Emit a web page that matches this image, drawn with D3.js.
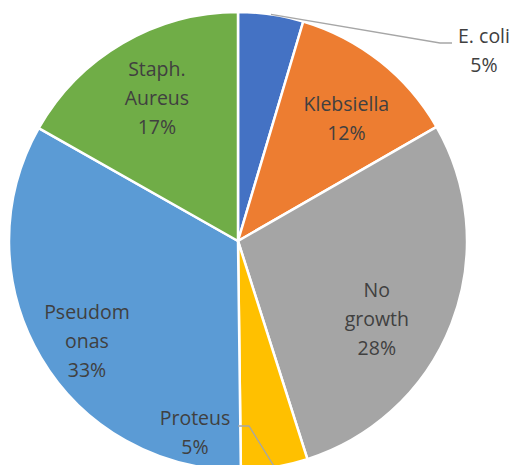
<!DOCTYPE html>
<html>
<head>
<meta charset="utf-8">
<script src="https://cdn.jsdelivr.net/npm/d3@7"></script>
<style>
  html, body { margin: 0; padding: 0; background: #fff; }
  svg { display: block; }
  .lbl { font-family: "Open Sans", sans-serif; font-size: 19.5px; fill: #404040; }
</style>
</head>
<body>
<svg id="chart" width="515" height="465"></svg>
<script>
// Organisms, clockwise from 12 o'clock
var categories = ["E. coli", "Klebsiella", "No growth", "Proteus", "Pseudomonas", "Staph. Aureus"];
// share of isolates (%)
var values = [4.6, 12.1, 28.4, 4.7, 33.4, 16.8];
// how each label is wrapped in the chart
var labelLines = [["E. coli"], ["Klebsiella"], ["No", "growth"], ["Proteus"], ["Pseudom", "onas"], ["Staph.", "Aureus"]];
var colors = ["#4472C4", "#ED7D31", "#A5A5A5", "#FFC000", "#5B9BD5", "#70AD47"];

var svg = d3.select('#chart');
var cx = 238, cy = 241, radius = 229;
var lineH = 29;
var total = d3.sum(values);

var data = categories.map(function(c, i) {
    return { name: c, value: values[i], lines: labelLines[i], color: colors[i] };
});

var pie = d3.pie().sort(null).value(function(d) { return d.value; });
var arc = d3.arc().innerRadius(0).outerRadius(radius);
var edgeArc = d3.arc().innerRadius(radius).outerRadius(radius);
var labelArc = d3.arc().innerRadius(165).outerRadius(165);

var g = svg.append('g').attr('transform', 'translate(' + cx + ',' + cy + ')');
var arcs = pie(data);

g.selectAll('path.slice')
    .data(arcs)
    .enter()
    .append('path')
    .attr('class', 'slice')
    .attr('d', arc)
    .attr('fill', function(d) { return d.data.color; })
    .attr('stroke', '#fff')
    .attr('stroke-width', 2.5)
    .attr('stroke-linejoin', 'round');

// small slices get their label outside with a leader line
var outside = {
    "E. coli": { x: 484, y: 43, elbow: [440, 43], end: [452, 43] },
    "Proteus": { x: 195, y: 425, elbow: [249, 426], end: [238, 426] }
};
// nudges for the inside labels (excel "best fit")
var nudge = {
    "Klebsiella": [6, 7],
    "No growth": [-15, 18],
    "Pseudomonas": [-9, 16],
    "Staph. Aureus": [2, 0]
};

arcs.forEach(function(a) {
    var d = a.data;
    var pct = Math.round(d.value / total * 100) + '%';
    var rows = d.lines.concat([pct]);
    var x, yTop;
    if (outside[d.name]) {
        var o = outside[d.name];
        var p = edgeArc.centroid(a);
        svg.append('polyline')
            .attr('points', [[p[0] + cx, p[1] + cy], o.elbow, o.end].map(function(q) { return q.join(','); }).join(' '))
            .attr('fill', 'none')
            .attr('stroke', '#A6A6A6')
            .attr('stroke-width', 1.3);
        x = o.x;
        yTop = o.y;
    } else {
        var c = labelArc.centroid(a);
        var n = nudge[d.name] || [0, 0];
        x = c[0] + cx + n[0];
        var mid = c[1] + cy + n[1];
        // center the block vertically on the anchor point
        yTop = mid - (rows.length - 1) * lineH / 2 + 7;
    }
    var t = svg.append('text')
        .attr('class', 'lbl')
        .attr('text-anchor', 'middle');
    rows.forEach(function(r, i) {
        t.append('tspan')
            .attr('x', x)
            .attr('y', yTop + i * lineH)
            .text(r);
    });
});
</script>
</body>
</html>
